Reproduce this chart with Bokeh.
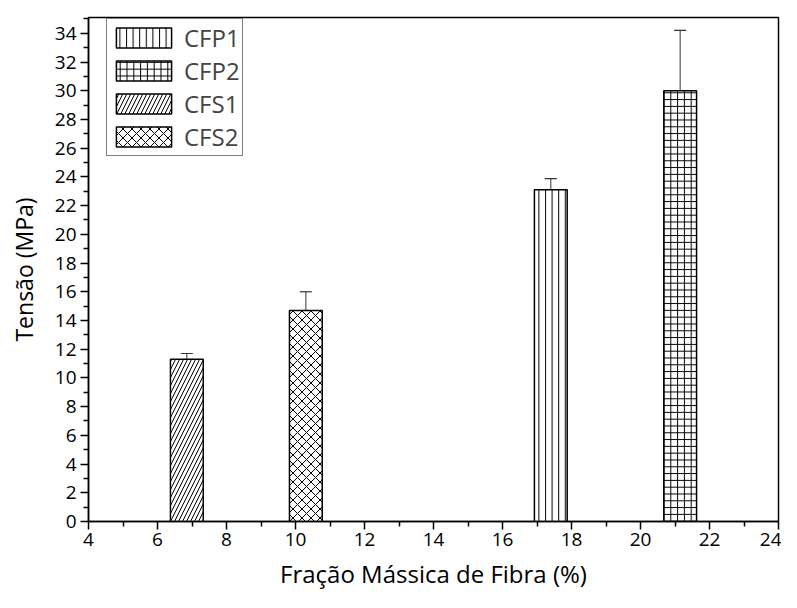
from bokeh.plotting import figure
from bokeh.models import ColumnDataSource, Whisker, TeeHead, FixedTicker, Range1d, Legend, LegendItem
from bokeh.embed import file_html
from bokeh.resources import INLINE

# data (legend order)
samples = ["CFP1", "CFP2", "CFS1", "CFS2"]
fraction = [17.4, 21.15, 6.85, 10.3]
tension = [23.1, 30.0, 11.3, 14.7]
error = [0.78, 4.2, 0.4, 1.3]
patterns = ["|", "+", "/", "x"]
scales = [6.6, 6.8, 8.0, 9.0]

x_ticks = list(range(4, 25, 2))
x_minor = list(range(5, 24, 2))
y_ticks = list(range(0, 35, 2))
y_minor = list(range(1, 36, 2))

FONT = "Open Sans"

p = figure(width=781, height=592, output_backend="svg", toolbar_location=None,
           x_range=Range1d(4, 24), y_range=Range1d(0, 35.1),
           min_border_left=88, min_border_right=3, min_border_top=17, min_border_bottom=66)
p.grid.visible = False
p.outline_line_color = "black"
p.outline_line_width = 1.5
p.background_fill_color = "white"
p.border_fill_color = "white"

items = []
for i, name in enumerate(samples):
    src = ColumnDataSource(dict(x=[fraction[i]], top=[tension[i]]))
    r = p.vbar(x="x", top="top", bottom=0, width=0.95, source=src,
               fill_color="white", line_color="black", line_width=1.5,
               hatch_pattern=patterns[i], hatch_color="black", hatch_weight=1,
               hatch_scale=scales[i])
    items.append(LegendItem(label=name, renderers=[r]))

esrc = ColumnDataSource(dict(
    base=fraction,
    upper=[t + e for t, e in zip(tension, error)],
    lower=[t - e for t, e in zip(tension, error)],
))
w = Whisker(base="base", upper="upper", lower="lower", source=esrc,
            line_color="#555555", line_width=1.2,
            upper_head=TeeHead(size=12, line_color="#333333", line_width=1.2),
            lower_head=TeeHead(size=12, line_color="#333333", line_width=1.2))
p.add_layout(w)

legend = Legend(items=items, location=(18, 365))
legend.border_line_color = "black"
legend.border_line_width = 1
legend.background_fill_alpha = 1
legend.glyph_width = 69
legend.glyph_height = 25
legend.spacing = 0
legend.padding = 2
legend.label_standoff = 6
legend.label_text_font = FONT
legend.label_text_font_size = "24px"
legend.label_height = 20
p.add_layout(legend)

for ax in (p.xaxis[0], p.yaxis[0]):
    ax.axis_line_color = "black"
    ax.axis_line_width = 1.5
    ax.major_tick_line_color = "black"
    ax.major_tick_line_width = 1.5
    ax.minor_tick_line_color = "black"
    ax.minor_tick_line_width = 1.5
    ax.major_tick_out = 8
    ax.major_tick_in = 0
    ax.minor_tick_out = 5
    ax.minor_tick_in = 0
    ax.major_label_text_font = FONT
    ax.major_label_text_font_size = "19px"
    ax.major_label_text_color = "black"
    ax.axis_label_text_font = FONT
    ax.axis_label_text_font_style = "normal"
    ax.axis_label_text_color = "black"

p.xaxis[0].axis_label_text_font_size = "24px"
p.yaxis[0].axis_label_text_font_size = "23px"
p.xaxis[0].ticker = FixedTicker(ticks=x_ticks, minor_ticks=x_minor)
p.yaxis[0].ticker = FixedTicker(ticks=y_ticks, minor_ticks=y_minor)
p.xaxis[0].axis_label = "Fração Mássica de Fibra (%)"
p.yaxis[0].axis_label = "Tensão (MPa)"
p.xaxis[0].major_label_standoff = 3
p.yaxis[0].major_label_standoff = 4
p.xaxis[0].axis_label_standoff = 8
p.yaxis[0].axis_label_standoff = 12

open("out.html", "w").write(file_html(p, INLINE))
